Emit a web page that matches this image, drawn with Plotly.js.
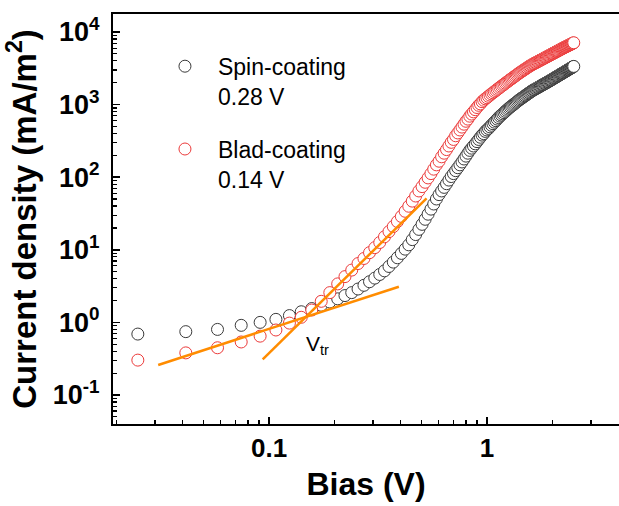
<!DOCTYPE html>
<html>
<head>
<meta charset="utf-8">
<script src="https://cdn.plot.ly/plotly-3.0.1.min.js"></script>
<style>html,body{margin:0;padding:0;overflow:hidden;background:#fff;}</style>
</head>
<body>
<div id="chart" style="width:619px;height:506px;"></div>
<script>
// Bias (V)
const bias = [0.025,0.0415,0.058,0.0745,0.091,0.1075,0.124,0.1405,0.157,0.1735,0.19,0.2065,0.223,0.2395,0.256,0.2725,0.289,0.3055,0.322,0.3385,0.355,0.3715,0.388,0.4045,0.421,0.4375,0.454,0.4705,0.487,0.5035,0.52,0.5365,0.553,0.5695,0.586,0.6025,0.619,0.6355,0.652,0.6685,0.685,0.7015,0.718,0.7345,0.751,0.7675,0.784,0.8005,0.817,0.8335,0.85,0.8665,0.883,0.8995,0.916,0.9325,0.949,0.9655,0.982,0.9985,1.015,1.0315,1.048,1.0645,1.081,1.0975,1.114,1.1305,1.147,1.1635,1.18,1.1965,1.213,1.2295,1.246,1.2625,1.279,1.2955,1.312,1.3285,1.345,1.3615,1.378,1.3945,1.411,1.4275,1.444,1.4605,1.477,1.4935,1.51,1.5265,1.543,1.5595,1.576,1.5925,1.609,1.6255,1.642,1.6585,1.675,1.6915,1.708,1.7245,1.741,1.7575,1.774,1.7905,1.807,1.8235,1.84,1.8565,1.873,1.8895,1.906,1.9225,1.939,1.9555,1.972,1.9885,2.005,2.0215,2.038,2.0545,2.071,2.0875,2.104,2.1205,2.137,2.1535,2.17,2.1865,2.203,2.2195,2.236,2.2525,2.269,2.2855,2.302,2.3185,2.335,2.3515,2.368,2.3845,2.401,2.4175,2.434,2.4505,2.467,2.4835,2.5];

// Current density (mA/m^2), spin-coating
const spinJ = [0.69,0.745,0.80,0.91,1.0,1.10,1.24,1.40,1.55,1.72,1.91,2.11,2.34,2.57,2.88,3.24,3.63,4.07,4.57,5.13,5.89,6.76,7.76,8.91,10.2,11.7,13.8,16.2,19.1,22.4,26.3,30.9,36.3,42.7,50.1,57.5,64.6,72.4,81.3,91.2,102,112,123,135,148,162,178,195,214,234,251,269,288,309,331,355,380,398,427,447,469,493,519,546,573,601,631,662,693,718,746,774,805,836,867,897,927,955,984,1014,1045,1076,1107,1140,1172,1202,1230,1259,1291,1321,1352,1384,1416,1449,1479,1514,1545,1578,1603,1629,1656,1687,1714,1742,1770,1799,1828,1858,1884,1914,1945,1972,2004,2032,2065,2094,2128,2158,2188,2223,2259,2291,2328,2360,2393,2427,2460,2500,2535,2570,2606,2642,2673,2710,2748,2786,2825,2858,2897,2931,2972,3013,3048,3090,3126,3162,3199,3243,3281,3319,3357];

// Current density (mA/m^2), blade-coating
const bladeJ = [0.302,0.380,0.447,0.537,0.646,0.785,0.977,1.175,1.479,1.95,2.57,3.39,4.27,5.25,6.46,7.59,9.12,10.7,12.6,15.1,17.8,20.9,24.5,28.8,33.9,39.8,46.8,55.0,64.6,74.1,85.1,97.7,112,129,148,166,191,214,240,269,302,331,372,407,447,490,537,589,631,692,741,794,851,912,977,1023,1096,1148,1202,1245,1300,1352,1406,1455,1510,1563,1618,1675,1734,1790,1849,1905,1968,2028,2089,2153,2213,2275,2339,2404,2472,2541,2606,2679,2748,2812,2877,2944,3013,3076,3148,3214,3289,3357,3428,3491,3556,3614,3673,3733,3784,3846,3908,3972,4027,4093,4150,4217,4276,4335,4406,4467,4529,4592,4656,4721,4786,4853,4920,4989,5047,5117,5188,5248,5321,5383,5458,5521,5598,5662,5728,5808,5875,5943,6012,6081,6152,6223,6281,6353,6412,6486,6561,6622,6699,6761,6823,6902,6966,7047,7112];

// Fit lines (tangents used for V_tr)
const fitLowV = [0.031, 0.394];
const fitLowJ = [0.259, 3.10];
const fitHighV = [0.0935, 0.528];
const fitHighJ = [0.310, 51.2];

const seriesNames = ['Spin-coating<br>0.28 V', 'Blad-coating<br>0.14 V'];
const yTickVals = [0.1, 1, 10, 100, 1000, 10000];
const yTickText = ['10<sup>-1</sup>', '10<sup>0</sup>', '10<sup>1</sup>', '10<sup>2</sup>', '10<sup>3</sup>', '10<sup>4</sup>'];
const xTickVals = [0.1, 1];
const xTickText = ['0.1', '1'];

const FONT = 'Liberation Sans, Arial, sans-serif';
const ORANGE = '#FF8C00';

const traces = [
  {x: bias, y: spinJ, type: 'scatter', mode: 'markers', name: seriesNames[0], legendgroup: 'a',
   marker: {symbol: 'circle', size: 12, color: '#ffffff', line: {color: '#3a3a3a', width: 1}}},
  {x: bias, y: bladeJ, type: 'scatter', mode: 'markers', name: seriesNames[1], legendgroup: 'b',
   marker: {symbol: 'circle', size: 12, color: '#ffffff', line: {color: '#ec3a3a', width: 1}}},
  {x: fitLowV, y: fitLowJ, type: 'scatter', mode: 'lines', showlegend: false,
   line: {color: ORANGE, width: 2.5}},
  {x: fitHighV, y: fitHighJ, type: 'scatter', mode: 'lines', showlegend: false,
   line: {color: ORANGE, width: 2.5}}
];

const layout = {
  width: 619, height: 506,
  margin: {l: 113, r: 0, t: 14, b: 82},
  paper_bgcolor: '#ffffff', plot_bgcolor: '#ffffff',
  font: {family: FONT, color: '#000'},
  showlegend: true,
  legend: {x: 0.077, y: 0.925, xanchor: 'left', yanchor: 'top', valign: 'top', itemwidth: 56,
           font: {family: FONT, size: 23, color: '#000'}, tracegroupgap: 20,
           bgcolor: 'rgba(0,0,0,0)', borderwidth: 0},
  xaxis: {
    type: 'log', range: [-1.716, 0.6055], showgrid: false, zeroline: false,
    showline: true, linecolor: '#000', linewidth: 2, mirror: true,
    ticks: 'inside', ticklen: 7, tickwidth: 1.5, tickcolor: '#000',
    tickmode: 'array', tickvals: xTickVals, ticktext: xTickText,
    tickfont: {family: FONT, size: 26, weight: 'bold', color: '#000'},
    minor: {ticks: 'inside', ticklen: 4, tickwidth: 1.2, tickcolor: '#000', dtick: 'D1', showgrid: false},
    title: {text: 'Bias (V)', font: {family: FONT, size: 32, weight: 'bold', color: '#000'}, standoff: 10}
  },
  yaxis: {
    type: 'log', range: [-1.40, 4.248], showgrid: false, zeroline: false,
    showline: true, linecolor: '#000', linewidth: 2, mirror: false,
    ticks: 'inside', ticklen: 7, tickwidth: 1.5, tickcolor: '#000',
    tickmode: 'array', tickvals: yTickVals, ticktext: yTickText,
    tickfont: {family: FONT, size: 27, weight: 'bold', color: '#000'},
    ticklabelstandoff: 6,
    minor: {ticks: 'inside', ticklen: 4, tickwidth: 1.2, tickcolor: '#000', dtick: 'D1', showgrid: false},
    title: {text: 'Current density (mA/m<sup>2</sup>)', font: {family: FONT, size: 33, weight: 'bold', color: '#000'}, standoff: 6}
  },
  annotations: [
    {xref: 'paper', yref: 'paper', x: 0.405, y: 0.193, text: 'V<sub>tr</sub>', showarrow: false,
     font: {family: FONT, size: 21, color: '#000'}, xanchor: 'center', yanchor: 'middle'}
  ]
};

Plotly.newPlot('chart', traces, layout, {displayModeBar: false, staticPlot: true});
</script>
</body>
</html>
